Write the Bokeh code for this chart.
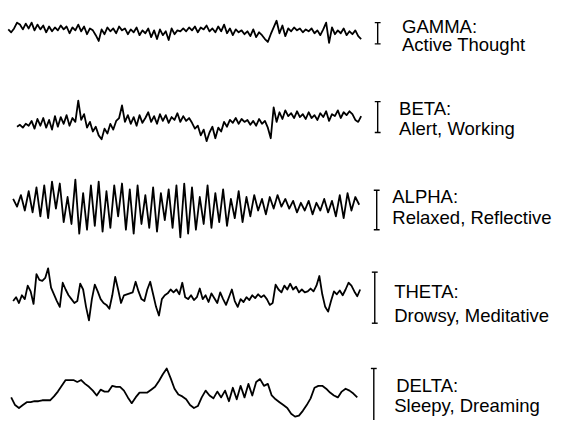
from bokeh.plotting import figure
from bokeh.models import Range1d
from bokeh.embed import file_html
from bokeh.resources import INLINE
from bokeh.core.properties import value

# ---- data ----
bands = ["GAMMA:", "BETA:", "ALPHA:", "THETA:", "DELTA:"]
states = ["Active Thought", "Alert, Working", "Relaxed, Reflective",
          "Drowsy, Meditative", "Sleepy, Dreaming"]

gamma = [2, -1, 3, 9, 7, 2, 8, 3, 9, 1,
         7, 2, 6, -1, 5, 0, 4, 1, 6, 2,
         5, -2, 4, 1, 7, 0, 5, -3, 3, 1,
         -4, -10, 2, -3, 4, 0, 3, -2, 5, 1,
         3, -3, 2, -1, 4, -4, 1, -2, 3, -6,
         1, -8, 2, -4, 0, -9, 3, -3, 1, 0,
         3, 0, 4, 1, 5, -1, 4, 2, 6, 0,
         3, -1, 5, 0, 7, -2, 3, -4, 2, -1,
         1, -3, 0, -5, 2, -6, -1, -4, -8, -11,
         -3, 4, 11, -2, 6, -5, 3, 0, 4, 1,
         3, -1, 2, 0, 3, -2, 1, -4, 2, 9,
         -12, 4, -3, 1, -2, 3, -4, 0, -3, 1, -5, -8]

beta = [-3, -1, -4, 0, -2, 3, -5, 5, -2, 6,
        -4, 4, -6, 8, -3, 7, 0, 9, -2, 6,
        2, 24, 4, 10, -4, 2, -8, -3, -12, -16,
        -5, -10, 0, -6, 3, 6, 19, 2, 9, 0,
        7, -2, 9, 1, 6, 12, 2, 8, 0, 10,
        3, 9, 1, 7, 4, 11, 2, 8, 3, 6,
        1, -5, -2, -12, -6, -18, -9, -3, -15, -4,
        -8, 2, -3, 4, 1, 6, 0, 5, 2, 4,
        -1, 3, -2, 5, 0, 3, -4, -15, 17, 2,
        12, 5, 14, 8, 11, 6, 13, 7, 10, 5,
        12, 6, 9, 4, 11, 7, 13, 3, 10, 8,
        14, 6, 12, 9, 13, 10, 4, 2, 8]

alpha = [6, -2, 10, -6, 14, -8, 18, -12, 20, -14,
         24, -4, 22, -18, 8, -20, 26, -30, 12, -26,
         20, -22, 24, -28, 14, -24, 20, -12, 22, -26,
         16, -30, 20, -20, 10, -24, 18, -28, 12, -16,
         16, -24, 20, -34, 22, -30, 18, -26, 8, -20,
         20, -24, 12, -18, 16, -22, 6, -14, 14, -18,
         8, -12, 10, -6, 6, -10, 8, -4, 10, -2,
         6, -4, 4, -8, 2, -6, 4, -10, 2, -6,
         6, -8, 4, -12, 10, -14, 12, -6, 8, 0]

theta = [-2, 2, -4, 4, 0, 14, 8, -5, 26, 20,
         19, 22, 32, 12, 5, -2, -8, 17, 10, 4,
         0, -4, -2, 16, 10, -8, -22, 0, 15, 8,
         0, -4, -6, -10, 4, 23, 10, -4, 4, 5,
         6, 7, 18, 8, 0, -2, 10, 18, 5, -8,
         -17, 0, 4, 6, 10, 7, 10, 5, 17, 2,
         0, 4, -1, 2, 11, 0, 4, -3, 6, 1,
         -4, 7, 0, -6, 2, 10, -2, -8, 0, -3,
         2, -1, 4, 1, 5, 2, 4, 0, -6, -4,
         15, 10, 7, 14, 10, 16, 10, 13, 7, 10,
         7, 8, 11, 8, 14, 24, 5, -8, -13, -2,
         8, 5, 9, 4, 10, 17, 14, 8, 3, 10]

delta = [-2, -10, -13, -10, -7, -7, -6, -6, -5, -5,
         -5, -1, 4, 10, 16, 16, 16, 14, 16, 12,
         9, 5, 0, 6, 4, 4, 10, 9, 9, 5,
         -2, -8, -2, 3, 3, 3, 6, 9, 15, 22,
         28, 18, 7, 1, -1, -4, -10, -13, -11, -2,
         5, 0, -3, 4, -2, 5, -6, 8, -4, 10,
         -2, 12, 0, 14, 17, 10, 12, 0, -4, -7,
         -10, -13, -19, -22, -21, -16, -10, -3, 8, 10,
         10, 7, 3, 0, -2, 4, 7, 5, 2, -2]

waves = [gamma, beta, alpha, theta, delta]

# ---- layout (reference pixel coordinates) ----
wave_x0 = [8, 17, 13, 13, 11]
wave_dx = [3, 3, 4, 3, 4]
wave_base = [32, 128, 212, 310, 410]

bar_x = [388, 388, 387, 385, 384]
bar_top = [23, 105, 197, 282, 382]
bar_bot = [45, 137, 238, 335, 445]

lab_x1 = [413, 410, 403, 405, 407]
lab_y1 = [27, 112, 203, 302, 400]
lab_x2 = [413, 410, 403, 405, 405]
lab_y2 = [46, 133, 225, 327, 420]

p = figure(width=558, height=420, x_range=Range1d(0, 574), y_range=Range1d(436, 0),
           output_backend="svg", toolbar_location=None, min_border=0,
           x_axis_type=None, y_axis_type=None)
p.grid.visible = False
p.outline_line_color = None
p.background_fill_color = "white"

for w, x0, dx, base in zip(waves, wave_x0, wave_dx, wave_base):
    xs = [x0 + dx * i for i in range(len(w))]
    ys = [base - v for v in w]
    p.line(xs, ys, line_color="black", line_width=1.8, line_join="round")

# scale bars with serifs
sx, sy = [], []
for bx, t, b in zip(bar_x, bar_top, bar_bot):
    sx.append([bx, bx]); sy.append([t, b])
    sx.append([bx - 3, bx + 3]); sy.append([t, t])
    sx.append([bx - 3, bx + 3]); sy.append([b, b])
p.multi_line(sx, sy, line_color="black", line_width=1.4)

p.text(x=lab_x1, y=lab_y1, text=bands, text_font=value("Liberation Sans"),
       text_font_size="18.5px", text_baseline="middle", text_align="left", text_color="black")
p.text(x=lab_x2, y=lab_y2, text=states, text_font=value("Liberation Sans"),
       text_font_size="18.5px", text_baseline="middle", text_align="left", text_color="black")

open("out.html", "w").write(file_html(p, INLINE))
